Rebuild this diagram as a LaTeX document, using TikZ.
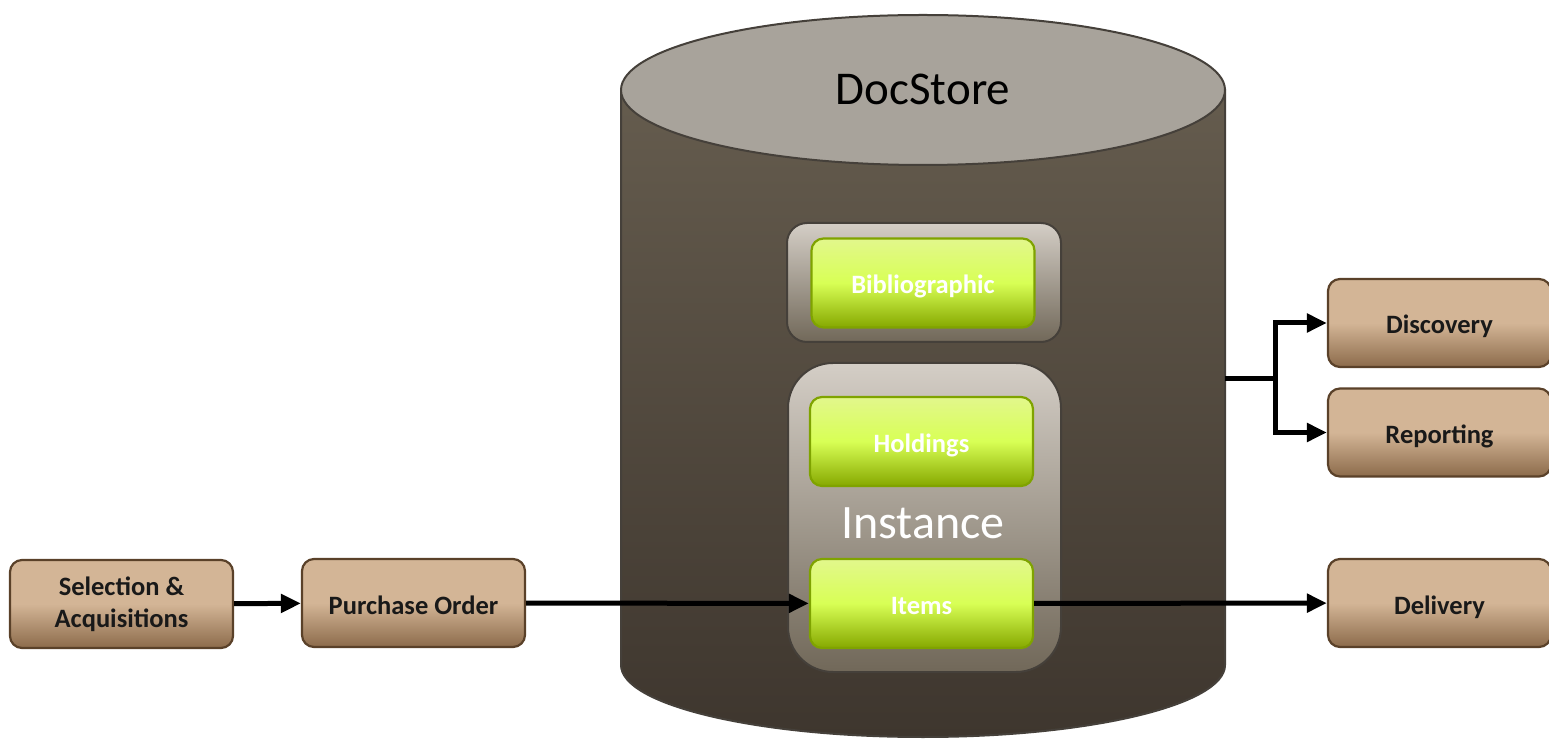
\documentclass[tikz,border=0pt]{standalone}
\usepackage{fontspec}
\setmainfont{Carlito}
\usetikzlibrary{arrows.meta,positioning}
\definecolor{storetop}{HTML}{A8A39B}
\definecolor{storeline}{HTML}{45403A}
\definecolor{storeup}{HTML}{655C4E}
\definecolor{storedown}{HTML}{3E362E}
\definecolor{trayup}{HTML}{D4CEC6}
\definecolor{traydown}{HTML}{716859}
\definecolor{limeup}{HTML}{E2F78C}
\definecolor{limemid}{HTML}{D8FF55}
\definecolor{limedown}{HTML}{86A800}
\definecolor{limeline}{HTML}{7FA300}
\definecolor{tanup}{HTML}{D3B596}
\definecolor{tandown}{HTML}{8C6B4B}
\definecolor{tanline}{HTML}{5A4129}
\tikzset{
  tanbox/.style={draw=tanline,line width=2.2pt,rounded corners=12pt,
    top color=tanup,bottom color=tandown,middle color=tanup,
    minimum width=223pt,minimum height=88pt,align=center,
    text=black!90,font=\bfseries\fontsize{26.5}{32}\selectfont},
  limebox/.style={draw=limeline,line width=2.2pt,rounded corners=12pt,
    top color=limeup,bottom color=limedown,middle color=limemid,
    minimum width=223pt,minimum height=89pt,
    text=white,font=\bfseries\fontsize{26.5}{32}\selectfont},
  oneline/.style={text height=22pt,text depth=0pt},
  tray/.style={draw=storeline,line width=2pt,
    top color=trayup,bottom color=traydown},
  flow/.style={->,line width=5pt}
}
\begin{document}
\begin{tikzpicture}[x=1pt,y=1pt,>={Triangle[length=20pt,width=18pt]}]
% \draw[help lines,step=100] (0,0) grid (1549,739);
\useasboundingbox (0,0) rectangle (1549,739);
% the store
\path[top color=storeup,bottom color=storedown,draw=storeline,line width=2pt]
  (621,649) -- (621,74) arc[start angle=180,end angle=360,x radius=302pt,y radius=72pt]
  -- (1225,649) -- cycle;
\path[fill=storetop,draw=storeline,line width=2pt] (923,649) ellipse[x radius=302pt,y radius=75pt];
\node (store) at (923,650) {\fontsize{47}{54}\selectfont DocStore};
\coordinate (storeR) at (1225,360);
\coordinate (fork) at (1275,360);
%
\node (bibtray) [tray,rounded corners=20pt,minimum width=274pt,minimum height=119pt] at (924,456.5) {};
\node (insttray) [tray,rounded corners=45pt,minimum width=273pt,minimum height=309pt] at (924.5,221.5) {};
\node (bib) [limebox,oneline] at (923,456) {Bibliographic};
\node (hold) [limebox,oneline] at (921.5,297.5) {Holdings};
\node (items) [limebox,oneline] at (921.5,135.5) {Items};
\node (inst) [text=white] at (923,216) {\fontsize{48}{55}\selectfont Instance};
%
\node (sel) [tanbox] at (121.5,135) {Selection \&\\Acquisitions};
\node (po) [tanbox,oneline] at (413.5,136) {Purchase Order};
\node (disc) [tanbox,oneline] at (1439.5,416) {Discovery};
\node (rep) [tanbox,oneline] at (1439.5,306.5) {Reporting};
\node (del) [tanbox,oneline] at (1439.5,136) {Delivery};
%
\path[flow](sel) edge (po);
\path[flow](po) edge (items);
\path[flow](items) edge (del);
\draw[flow] (storeR) -- (fork) |- (disc.west);
\draw[flow] (fork) |- (rep.west);
\end{tikzpicture}
\end{document}
